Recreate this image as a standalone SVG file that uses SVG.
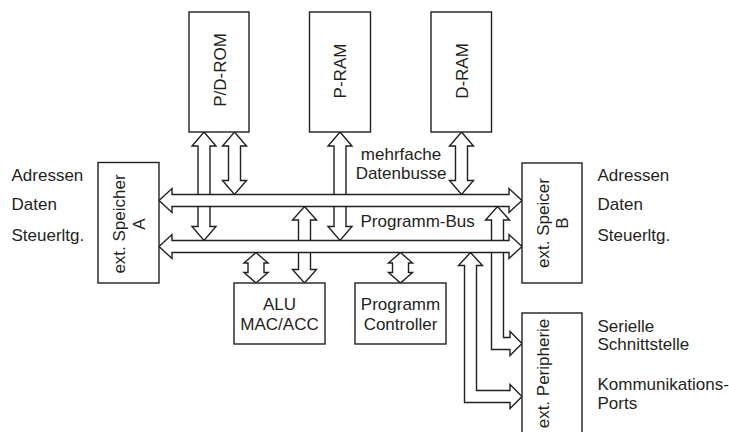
<svg xmlns="http://www.w3.org/2000/svg" width="729" height="432" viewBox="0 0 729 432">
<style>
.box{fill:#fff;stroke:#231f20;stroke-width:1.4}
.arr{fill:#fff;stroke:#231f20;stroke-width:1.4;stroke-linejoin:miter}
text{font-family:"Liberation Sans",Arial,sans-serif;font-size:17px;fill:#231f20}
.c{text-anchor:middle}
</style>
<rect width="729" height="432" fill="#fff"/>
<g id="connectors">
<polygon class="arr" points="204,132 216,146 210,146 210,226.5 216,226.5 204,240.5 192,226.5 198,226.5 198,146 192,146"/>
<polygon class="arr" points="234.5,132 246.5,146 240.5,146 240.5,180.5 246.5,180.5 234.5,194.5 222.5,180.5 228.5,180.5 228.5,146 222.5,146"/>
<polygon class="arr" points="340,132 352,146 346,146 346,226.5 352,226.5 340,240.5 328,226.5 334,226.5 334,146 328,146"/>
<polygon class="arr" points="461.5,132 473.5,146 467.5,146 467.5,180.5 473.5,180.5 461.5,194.5 449.5,180.5 455.5,180.5 455.5,146 449.5,146"/>
<polygon class="arr" points="304.5,206.5 316.5,220 310.5,220 310.5,269.5 316.5,269.5 304.5,283 292.5,269.5 298.5,269.5 298.5,220 292.5,220"/>
<polygon class="arr" points="256,252.5 268,263 264,263 264,272.5 268,272.5 256,283 244,272.5 248,272.5 248,263 244,263"/>
<polygon class="arr" points="400.5,252.5 412.5,263 408.5,263 408.5,272.5 412.5,272.5 400.5,283 388.5,272.5 392.5,272.5 392.5,263 388.5,263"/>
<polygon class="arr" points="497.5,206.5 509.5,220 503.5,220 503.5,337.5 510,337.5 510,331.5 522,343.5 510,355.5 510,349.5 491.5,349.5 491.5,220 485.5,220"/>
<polygon class="arr" points="470.5,252.5 482.5,265.5 476.5,265.5 476.5,390.5 510,390.5 510,384.5 522,396.5 510,408.5 510,402.5 464.5,402.5 464.5,265.5 458.5,265.5"/>
<polygon class="arr" points="159,200.5 172,188.5 172,194.5 509,194.5 509,188.5 522,200.5 509,212.5 509,206.5 172,206.5 172,212.5"/>
<polygon class="arr" points="159,246.5 172,234.5 172,240.5 509,240.5 509,234.5 522,246.5 509,258.5 509,252.5 172,252.5 172,258.5"/>
</g>
<g id="pdrom"><rect class="box" x="189" y="12" width="60" height="120"/><text class="c" transform="translate(226,70) rotate(-90)">P/D-ROM</text></g>
<g id="pram"><rect class="box" x="309.5" y="12" width="61" height="120"/><text class="c" transform="translate(346,71) rotate(-90)">P-RAM</text></g>
<g id="dram"><rect class="box" x="431" y="12" width="60.5" height="120"/><text class="c" transform="translate(467.5,71) rotate(-90)">D-RAM</text></g>
<g id="speicherA"><rect class="box" x="98" y="162.5" width="61" height="120.5"/><text class="c" transform="translate(124.5,224) rotate(-90)">ext. Speicher</text><text class="c" transform="translate(145,224) rotate(-90)">A</text></g>
<g id="speicherB"><rect class="box" x="522" y="163" width="60" height="120"/><text class="c" transform="translate(548.5,223) rotate(-90)">ext. Speicer</text><text class="c" transform="translate(567.5,223) rotate(-90)">B</text></g>
<g id="alu"><rect class="box" x="234" y="283" width="91" height="61"/><text class="c" x="279.5" y="309.5">ALU</text><text class="c" x="279.5" y="330">MAC/ACC</text></g>
<g id="controller"><rect class="box" x="355" y="283" width="91" height="61"/><text class="c" x="400.5" y="310">Programm</text><text class="c" x="400.5" y="329.5">Controller</text></g>
<g id="peripherie"><rect class="box" x="522" y="313" width="60" height="130"/><text class="c" transform="translate(549,373.5) rotate(-90)">ext. Peripherie</text></g>
<g id="labels">
<text x="11.5" y="180.5">Adressen</text>
<text x="11.5" y="210">Daten</text>
<text x="11.5" y="240.5">Steuerltg.</text>
<text x="597.5" y="180.5">Adressen</text>
<text x="597.5" y="210">Daten</text>
<text x="597.5" y="240.5">Steuerltg.</text>
<text class="c" x="401" y="160">mehrfache</text>
<text class="c" x="401" y="178.5">Datenbusse</text>
<text x="360.5" y="226.5">Programm-Bus</text>
<text x="597.5" y="331.5">Serielle</text>
<text x="597.5" y="350">Schnittstelle</text>
<text x="597.5" y="390">Kommunikations-</text>
<text x="597.5" y="408.5">Ports</text>
</g>
</svg>
